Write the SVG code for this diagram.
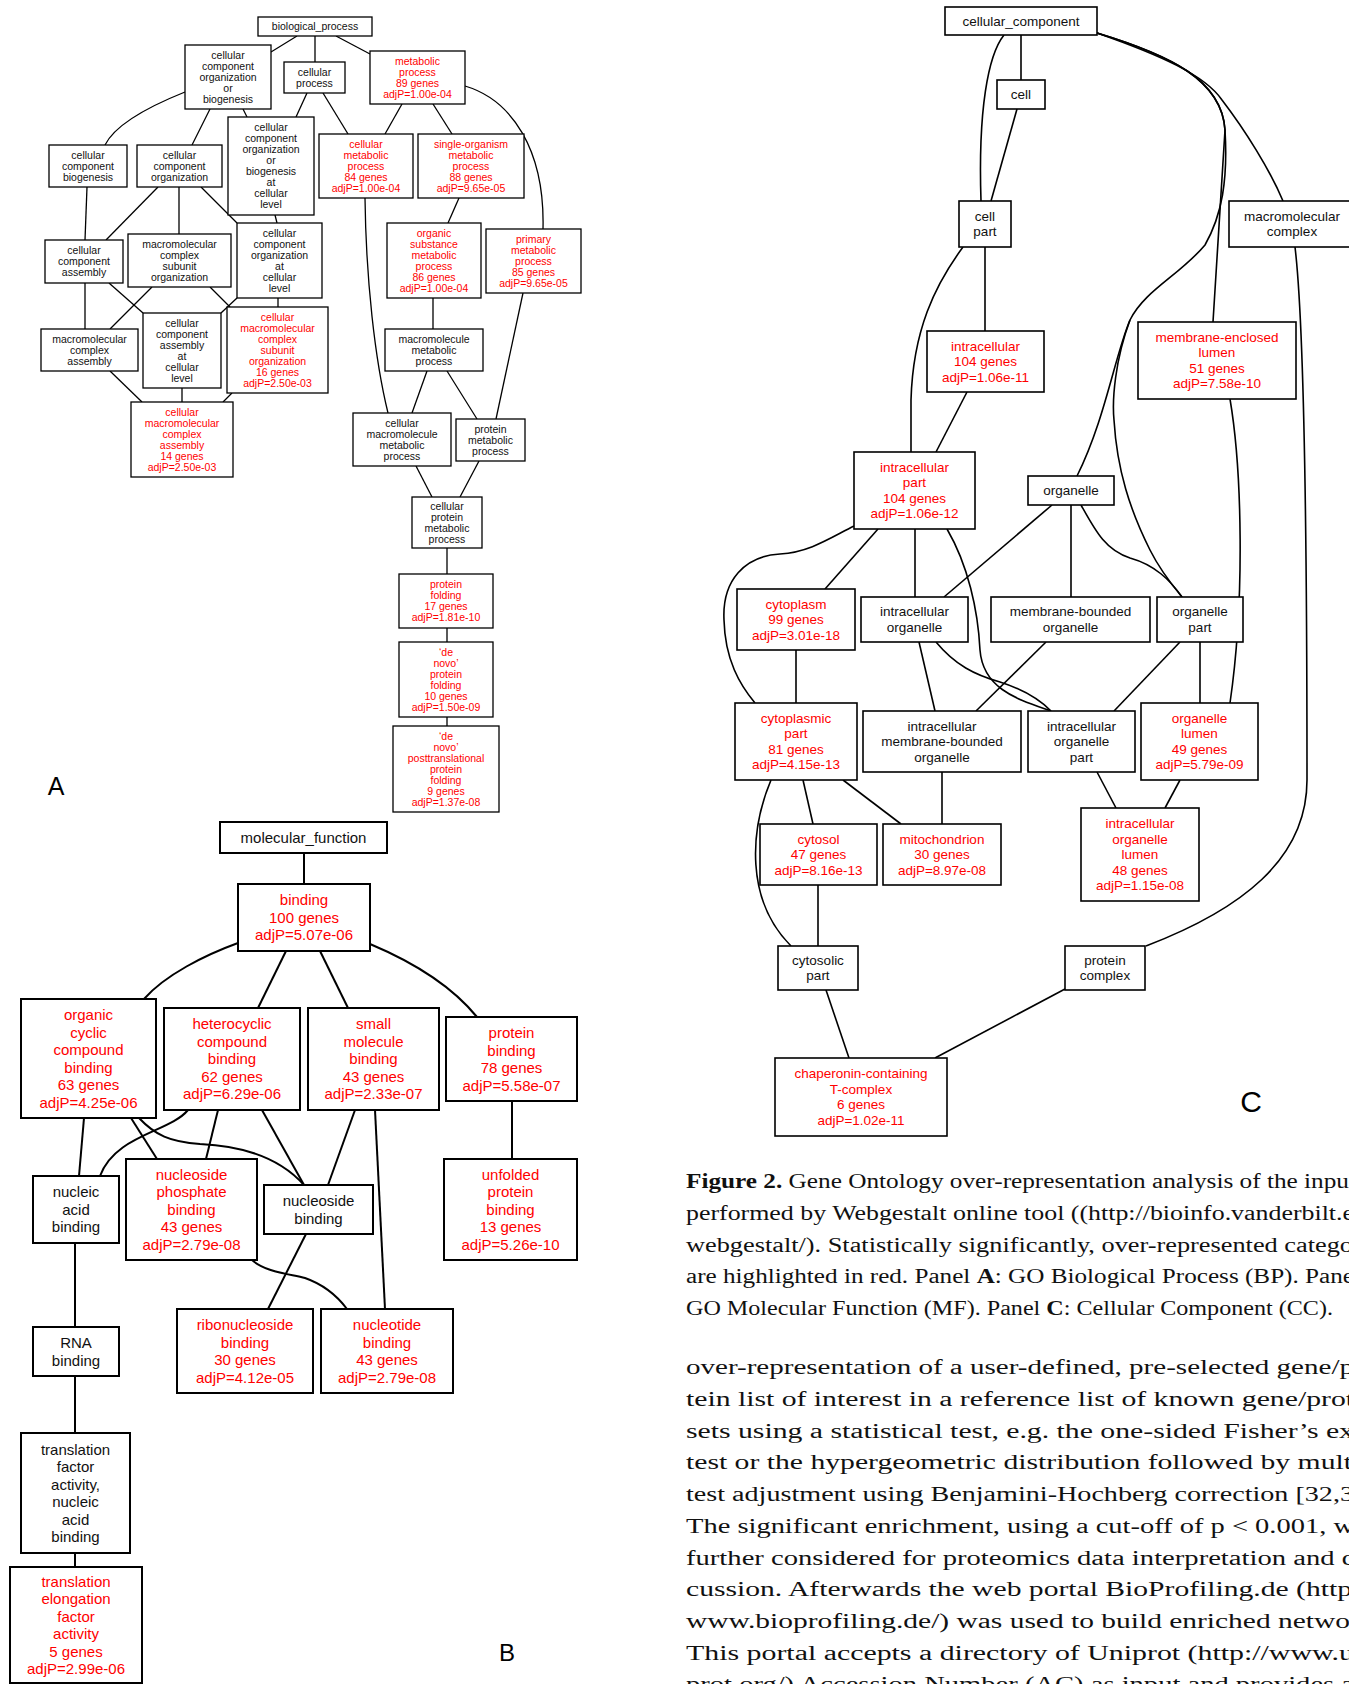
<svg xmlns="http://www.w3.org/2000/svg" width="1349" height="1684" viewBox="0 0 1349 1684">
<style>
.bg{fill:#fff}
.box{fill:#fff;stroke:#000}
.ba{stroke-width:1.3}
.bb{stroke-width:2}
.bc{stroke-width:1.6}
.edges path{fill:none;stroke:#000}
.ea path{stroke-width:1.3}
.eb path{stroke-width:2}
.ec path{stroke-width:1.6}
text{font-family:"Liberation Sans",Arial,sans-serif;text-anchor:middle;fill:#111}
.ta{font-size:10.5px}
.tb{font-size:15px}
.tc{font-size:13.5px}
.r{fill:#ff0000}
.lbl{font-family:"Liberation Sans",Arial,sans-serif;fill:#000}
.cap{font-family:"Liberation Serif","Times New Roman",serif;font-size:20px;text-anchor:start;fill:#111}
.bold{font-weight:bold}
</style>
<rect class="bg" x="0" y="0" width="1349" height="1684"/>

<!-- ================= PANEL A ================= -->
<g id="panelA">
<g id="edgesA" class="edges ea">
<path d="M297,36 L271,52"/>
<path d="M315,36 L315,62"/>
<path d="M336,36 L370,54"/>
<path d="M185,92 C145,108 115,125 105,145"/>
<path d="M210,109 L192,145"/>
<path d="M243,109 L247,117"/>
<path d="M307,93 L296,117"/>
<path d="M323,93 L348,134"/>
<path d="M402,104 L385,134"/>
<path d="M433,104 L452,134"/>
<path d="M465,86 C512,100 545,150 543,229"/>
<path d="M459,198 L448,223"/>
<path d="M365,198 C366,280 375,360 388,413"/>
<path d="M433,298 L433,329"/>
<path d="M523,293 L496,419"/>
<path d="M427,371 L412,413"/>
<path d="M447,371 L477,419"/>
<path d="M416,466 L432,497"/>
<path d="M479,461 L460,497"/>
<path d="M447,548 L447,574"/>
<path d="M447,628 L447,642"/>
<path d="M447,717 L447,726"/>
<path d="M87,187 L85,240"/>
<path d="M158,187 L106,240"/>
<path d="M179,187 L179,234"/>
<path d="M201,187 L237,223"/>
<path d="M275,215 L277,223"/>
<path d="M85,283 L85,329"/>
<path d="M109,283 L143,313"/>
<path d="M152,287 L110,329"/>
<path d="M210,287 L230,307"/>
<path d="M237,298 L221,313"/>
<path d="M278,298 L278,307"/>
<path d="M110,371 L142,402"/>
<path d="M182,388 L182,402"/>
<path d="M232,393 L223,402"/>
</g>

<g id="a-biological-process"><rect class="box ba" x="258" y="17" width="114" height="19"/><text class="ta" x="315" y="30.2">biological_process</text></g>
<g id="a-ccoob"><rect class="box ba" x="185" y="45" width="86" height="64"/><text class="ta" y="58.7"><tspan x="228">cellular</tspan><tspan x="228" dy="11">component</tspan><tspan x="228" dy="11">organization</tspan><tspan x="228" dy="11">or</tspan><tspan x="228" dy="11">biogenesis</tspan></text></g>
<g id="a-cellular-process"><rect class="box ba" x="284" y="62" width="61" height="31"/><text class="ta" y="75.7"><tspan x="314.5">cellular</tspan><tspan x="314.5" dy="11">process</tspan></text></g>
<g id="a-metabolic-process"><rect class="box ba" x="370" y="51" width="95" height="53"/><text class="ta r" y="64.7"><tspan x="417.5">metabolic</tspan><tspan x="417.5" dy="11">process</tspan><tspan x="417.5" dy="11">89 genes</tspan><tspan x="417.5" dy="11">adjP=1.00e-04</tspan></text></g>
<g id="a-ccb"><rect class="box ba" x="49" y="145" width="78" height="42"/><text class="ta" y="158.7"><tspan x="88">cellular</tspan><tspan x="88" dy="11">component</tspan><tspan x="88" dy="11">biogenesis</tspan></text></g>
<g id="a-cco"><rect class="box ba" x="137" y="145" width="85" height="42"/><text class="ta" y="158.7"><tspan x="179.5">cellular</tspan><tspan x="179.5" dy="11">component</tspan><tspan x="179.5" dy="11">organization</tspan></text></g>
<g id="a-ccoobcl"><rect class="box ba" x="228" y="117" width="86" height="98"/><text class="ta" y="131.2"><tspan x="271">cellular</tspan><tspan x="271" dy="11">component</tspan><tspan x="271" dy="11">organization</tspan><tspan x="271" dy="11">or</tspan><tspan x="271" dy="11">biogenesis</tspan><tspan x="271" dy="11">at</tspan><tspan x="271" dy="11">cellular</tspan><tspan x="271" dy="11">level</tspan></text></g>
<g id="a-cmp"><rect class="box ba" x="319" y="134" width="94" height="64"/><text class="ta r" y="147.7"><tspan x="366">cellular</tspan><tspan x="366" dy="11">metabolic</tspan><tspan x="366" dy="11">process</tspan><tspan x="366" dy="11">84 genes</tspan><tspan x="366" dy="11">adjP=1.00e-04</tspan></text></g>
<g id="a-somp"><rect class="box ba" x="418" y="134" width="106" height="64"/><text class="ta r" y="147.7"><tspan x="471">single-organism</tspan><tspan x="471" dy="11">metabolic</tspan><tspan x="471" dy="11">process</tspan><tspan x="471" dy="11">88 genes</tspan><tspan x="471" dy="11">adjP=9.65e-05</tspan></text></g>
<g id="a-cca"><rect class="box ba" x="45" y="240" width="78" height="43"/><text class="ta" y="254.2"><tspan x="84">cellular</tspan><tspan x="84" dy="11">component</tspan><tspan x="84" dy="11">assembly</tspan></text></g>
<g id="a-mcso"><rect class="box ba" x="128" y="234" width="103" height="53"/><text class="ta" y="247.7"><tspan x="179.5">macromolecular</tspan><tspan x="179.5" dy="11">complex</tspan><tspan x="179.5" dy="11">subunit</tspan><tspan x="179.5" dy="11">organization</tspan></text></g>
<g id="a-ccoacl"><rect class="box ba" x="237" y="223" width="85" height="75"/><text class="ta" y="236.7"><tspan x="279.5">cellular</tspan><tspan x="279.5" dy="11">component</tspan><tspan x="279.5" dy="11">organization</tspan><tspan x="279.5" dy="11">at</tspan><tspan x="279.5" dy="11">cellular</tspan><tspan x="279.5" dy="11">level</tspan></text></g>
<g id="a-osmp"><rect class="box ba" x="387" y="223" width="94" height="75"/><text class="ta r" y="236.7"><tspan x="434">organic</tspan><tspan x="434" dy="11">substance</tspan><tspan x="434" dy="11">metabolic</tspan><tspan x="434" dy="11">process</tspan><tspan x="434" dy="11">86 genes</tspan><tspan x="434" dy="11">adjP=1.00e-04</tspan></text></g>
<g id="a-pmp"><rect class="box ba" x="486" y="229" width="95" height="64"/><text class="ta r" y="242.7"><tspan x="533.5">primary</tspan><tspan x="533.5" dy="11">metabolic</tspan><tspan x="533.5" dy="11">process</tspan><tspan x="533.5" dy="11">85 genes</tspan><tspan x="533.5" dy="11">adjP=9.65e-05</tspan></text></g>
<g id="a-mca"><rect class="box ba" x="41" y="329" width="97" height="42"/><text class="ta" y="342.7"><tspan x="89.5">macromolecular</tspan><tspan x="89.5" dy="11">complex</tspan><tspan x="89.5" dy="11">assembly</tspan></text></g>
<g id="a-ccaacl"><rect class="box ba" x="143" y="313" width="78" height="75"/><text class="ta" y="326.7"><tspan x="182">cellular</tspan><tspan x="182" dy="11">component</tspan><tspan x="182" dy="11">assembly</tspan><tspan x="182" dy="11">at</tspan><tspan x="182" dy="11">cellular</tspan><tspan x="182" dy="11">level</tspan></text></g>
<g id="a-cmcso"><rect class="box ba" x="227" y="307" width="101" height="86"/><text class="ta r" y="320.7"><tspan x="277.5">cellular</tspan><tspan x="277.5" dy="11">macromolecular</tspan><tspan x="277.5" dy="11">complex</tspan><tspan x="277.5" dy="11">subunit</tspan><tspan x="277.5" dy="11">organization</tspan><tspan x="277.5" dy="11">16 genes</tspan><tspan x="277.5" dy="11">adjP=2.50e-03</tspan></text></g>
<g id="a-mmp"><rect class="box ba" x="385" y="329" width="98" height="42"/><text class="ta" y="342.7"><tspan x="434">macromolecule</tspan><tspan x="434" dy="11">metabolic</tspan><tspan x="434" dy="11">process</tspan></text></g>
<g id="a-cmca"><rect class="box ba" x="131" y="402" width="102" height="75"/><text class="ta r" y="415.7"><tspan x="182">cellular</tspan><tspan x="182" dy="11">macromolecular</tspan><tspan x="182" dy="11">complex</tspan><tspan x="182" dy="11">assembly</tspan><tspan x="182" dy="11">14 genes</tspan><tspan x="182" dy="11">adjP=2.50e-03</tspan></text></g>
<g id="a-cmmp"><rect class="box ba" x="353" y="413" width="98" height="53"/><text class="ta" y="426.7"><tspan x="402">cellular</tspan><tspan x="402" dy="11">macromolecule</tspan><tspan x="402" dy="11">metabolic</tspan><tspan x="402" dy="11">process</tspan></text></g>
<g id="a-prmp"><rect class="box ba" x="456" y="419" width="69" height="42"/><text class="ta" y="432.7"><tspan x="490.5">protein</tspan><tspan x="490.5" dy="11">metabolic</tspan><tspan x="490.5" dy="11">process</tspan></text></g>
<g id="a-cpmp"><rect class="box ba" x="412" y="497" width="70" height="51"/><text class="ta" y="509.7"><tspan x="447">cellular</tspan><tspan x="447" dy="11">protein</tspan><tspan x="447" dy="11">metabolic</tspan><tspan x="447" dy="11">process</tspan></text></g>
<g id="a-pf"><rect class="box ba" x="399" y="574" width="94" height="54"/><text class="ta r" y="588.2"><tspan x="446">protein</tspan><tspan x="446" dy="11">folding</tspan><tspan x="446" dy="11">17 genes</tspan><tspan x="446" dy="11">adjP=1.81e-10</tspan></text></g>
<g id="a-dnpf"><rect class="box ba" x="399" y="642" width="94" height="75"/><text class="ta r" y="655.7"><tspan x="446">‘de</tspan><tspan x="446" dy="11">novo’</tspan><tspan x="446" dy="11">protein</tspan><tspan x="446" dy="11">folding</tspan><tspan x="446" dy="11">10 genes</tspan><tspan x="446" dy="11">adjP=1.50e-09</tspan></text></g>
<g id="a-dnppf"><rect class="box ba" x="393" y="726" width="106" height="86"/><text class="ta r" y="739.7"><tspan x="446">‘de</tspan><tspan x="446" dy="11">novo’</tspan><tspan x="446" dy="11">posttranslational</tspan><tspan x="446" dy="11">protein</tspan><tspan x="446" dy="11">folding</tspan><tspan x="446" dy="11">9 genes</tspan><tspan x="446" dy="11">adjP=1.37e-08</tspan></text></g>
<text class="lbl" x="56" y="795" font-size="25">A</text>
</g>

<!-- ================= PANEL B ================= -->
<g id="panelB">
<g id="edgesB" class="edges eb">
<path d="M304,853 L304,884"/>
<path d="M238,943 C205,955 165,975 144,999"/>
<path d="M286,951 L258,1008"/>
<path d="M320,951 L348,1008"/>
<path d="M370,944 C420,965 455,990 477,1017"/>
<path d="M84,1118 L79,1176"/>
<path d="M131,1118 L157,1159"/>
<path d="M139,1118 C155,1135 170,1142 200,1144 C245,1146 280,1158 304,1185"/>
<path d="M188,1110 C170,1132 115,1135 100,1176"/>
<path d="M218,1110 L206,1159"/>
<path d="M262,1110 L304,1185"/>
<path d="M355,1110 L328,1185"/>
<path d="M375,1110 L385,1309"/>
<path d="M512,1101 L512,1159"/>
<path d="M75,1243 L75,1327"/>
<path d="M75,1376 L75,1433"/>
<path d="M75,1553 L75,1567"/>
<path d="M306,1234 L268,1309"/>
<path d="M252,1260 C265,1272 290,1274 305,1278 C325,1285 338,1297 347,1309"/>
</g>
<g id="b-mf"><rect class="box bb" x="220" y="822" width="167" height="31"/><text class="tb" x="303.5" y="842.75">molecular_function</text></g>
<g id="b-binding"><rect class="box bb" x="238" y="884" width="132" height="67"/><text class="tb r" y="905.25"><tspan x="304">binding</tspan><tspan x="304" dy="17.5">100 genes</tspan><tspan x="304" dy="17.5">adjP=5.07e-06</tspan></text></g>
<g id="b-ocb"><rect class="box bb" x="21" y="999" width="135" height="119"/><text class="tb r" y="1020"><tspan x="88.5">organic</tspan><tspan x="88.5" dy="17.5">cyclic</tspan><tspan x="88.5" dy="17.5">compound</tspan><tspan x="88.5" dy="17.5">binding</tspan><tspan x="88.5" dy="17.5">63 genes</tspan><tspan x="88.5" dy="17.5">adjP=4.25e-06</tspan></text></g>
<g id="b-hcb"><rect class="box bb" x="164" y="1008" width="136" height="102"/><text class="tb r" y="1029.25"><tspan x="232">heterocyclic</tspan><tspan x="232" dy="17.5">compound</tspan><tspan x="232" dy="17.5">binding</tspan><tspan x="232" dy="17.5">62 genes</tspan><tspan x="232" dy="17.5">adjP=6.29e-06</tspan></text></g>
<g id="b-smb"><rect class="box bb" x="308" y="1008" width="131" height="102"/><text class="tb r" y="1029.25"><tspan x="373.5">small</tspan><tspan x="373.5" dy="17.5">molecule</tspan><tspan x="373.5" dy="17.5">binding</tspan><tspan x="373.5" dy="17.5">43 genes</tspan><tspan x="373.5" dy="17.5">adjP=2.33e-07</tspan></text></g>
<g id="b-pb"><rect class="box bb" x="446" y="1017" width="131" height="84"/><text class="tb r" y="1038"><tspan x="511.5">protein</tspan><tspan x="511.5" dy="17.5">binding</tspan><tspan x="511.5" dy="17.5">78 genes</tspan><tspan x="511.5" dy="17.5">adjP=5.58e-07</tspan></text></g>
<g id="b-nab"><rect class="box bb" x="33" y="1176" width="86" height="67"/><text class="tb" y="1197.25"><tspan x="76">nucleic</tspan><tspan x="76" dy="17.5">acid</tspan><tspan x="76" dy="17.5">binding</tspan></text></g>
<g id="b-npb"><rect class="box bb" x="126" y="1159" width="131" height="101"/><text class="tb r" y="1179.75"><tspan x="191.5">nucleoside</tspan><tspan x="191.5" dy="17.5">phosphate</tspan><tspan x="191.5" dy="17.5">binding</tspan><tspan x="191.5" dy="17.5">43 genes</tspan><tspan x="191.5" dy="17.5">adjP=2.79e-08</tspan></text></g>
<g id="b-nb"><rect class="box bb" x="264" y="1185" width="109" height="49"/><text class="tb" y="1206"><tspan x="318.5">nucleoside</tspan><tspan x="318.5" dy="17.5">binding</tspan></text></g>
<g id="b-upb"><rect class="box bb" x="444" y="1159" width="133" height="101"/><text class="tb r" y="1179.75"><tspan x="510.5">unfolded</tspan><tspan x="510.5" dy="17.5">protein</tspan><tspan x="510.5" dy="17.5">binding</tspan><tspan x="510.5" dy="17.5">13 genes</tspan><tspan x="510.5" dy="17.5">adjP=5.26e-10</tspan></text></g>
<g id="b-rna"><rect class="box bb" x="33" y="1327" width="86" height="49"/><text class="tb" y="1348"><tspan x="76">RNA</tspan><tspan x="76" dy="17.5">binding</tspan></text></g>
<g id="b-tfa"><rect class="box bb" x="21" y="1433" width="109" height="120"/><text class="tb" y="1454.5"><tspan x="75.5">translation</tspan><tspan x="75.5" dy="17.5">factor</tspan><tspan x="75.5" dy="17.5">activity,</tspan><tspan x="75.5" dy="17.5">nucleic</tspan><tspan x="75.5" dy="17.5">acid</tspan><tspan x="75.5" dy="17.5">binding</tspan></text></g>
<g id="b-tefa"><rect class="box bb" x="10" y="1567" width="132" height="116"/><text class="tb r" y="1586.5"><tspan x="76">translation</tspan><tspan x="76" dy="17.5">elongation</tspan><tspan x="76" dy="17.5">factor</tspan><tspan x="76" dy="17.5">activity</tspan><tspan x="76" dy="17.5">5 genes</tspan><tspan x="76" dy="17.5">adjP=2.99e-06</tspan></text></g>
<g id="b-rb"><rect class="box bb" x="177" y="1309" width="136" height="84"/><text class="tb r" y="1330"><tspan x="245">ribonucleoside</tspan><tspan x="245" dy="17.5">binding</tspan><tspan x="245" dy="17.5">30 genes</tspan><tspan x="245" dy="17.5">adjP=4.12e-05</tspan></text></g>
<g id="b-ntb"><rect class="box bb" x="321" y="1309" width="132" height="84"/><text class="tb r" y="1330"><tspan x="387">nucleotide</tspan><tspan x="387" dy="17.5">binding</tspan><tspan x="387" dy="17.5">43 genes</tspan><tspan x="387" dy="17.5">adjP=2.79e-08</tspan></text></g>
<text class="lbl" x="507" y="1661" font-size="24">B</text>
</g>

<!-- ================= PANEL C ================= -->
<g id="panelC">
<g id="edgesC" class="edges ec">
<path d="M1021,35 L1021,80"/>
<path d="M1004,35 C988,55 978,110 981,201"/>
<path d="M1017,109 L991,201"/>
<path d="M1097,33 C1160,55 1205,75 1222,100 C1245,130 1270,170 1283,201"/>
<path d="M1097,33 C1170,55 1222,80 1225,130 L1213,322"/>
<path d="M1097,33 C1170,55 1222,80 1225,130 C1228,180 1222,215 1205,245 C1180,275 1145,290 1130,320 C1115,355 1105,420 1077,476"/>
<path d="M1130,320 C1115,360 1112,400 1114,420 C1117,470 1130,510 1150,550 C1160,570 1172,585 1182,597"/>
<path d="M1230,399 C1242,470 1245,600 1230,703"/>
<path d="M1295,247 C1305,330 1307,600 1307,780 C1307,860 1240,910 1146,946"/>
<path d="M985,247 L985,331"/>
<path d="M963,247 C935,285 913,330 911,400 L911,452"/>
<path d="M967,392 L936,452"/>
<path d="M878,529 L825,589"/>
<path d="M915,529 L915,597"/>
<path d="M854,526 C830,538 810,552 780,554 C745,556 722,580 724,620 C725,660 740,685 755,703"/>
<path d="M947,529 C968,565 978,610 980,650 C983,690 1020,700 1051,711"/>
<path d="M1052,505 L944,597"/>
<path d="M1071,505 L1071,597"/>
<path d="M1081,505 C1095,530 1105,550 1130,558 C1155,565 1170,580 1182,597"/>
<path d="M919,642 L935,711"/>
<path d="M936,642 C955,665 975,675 1000,682 C1025,690 1040,700 1051,711"/>
<path d="M1046,642 L976,711"/>
<path d="M1180,642 L1114,711"/>
<path d="M1200,642 L1200,703"/>
<path d="M796,650 L796,703"/>
<path d="M803,780 L813,824"/>
<path d="M843,780 L901,824"/>
<path d="M771,780 C750,830 745,900 791,946"/>
<path d="M942,772 L942,824"/>
<path d="M1097,772 L1116,808"/>
<path d="M1180,780 L1165,808"/>
<path d="M818,885 L818,946"/>
<path d="M826,990 L849,1058"/>
<path d="M1065,989 L935,1058"/>
</g>
<g id="c-cc"><rect class="box bc" x="945" y="7" width="152" height="28"/><text class="tc" x="1021" y="25.7">cellular_component</text></g>
<g id="c-cell"><rect class="box bc" x="997" y="80" width="48" height="29"/><text class="tc" x="1021" y="99.2">cell</text></g>
<g id="c-cellpart"><rect class="box bc" x="959" y="201" width="52" height="46"/><text class="tc" y="220.95"><tspan x="985">cell</tspan><tspan x="985" dy="15.5">part</tspan></text></g>
<g id="c-mc"><rect class="box bc" x="1229" y="201" width="127" height="46"/><text class="tc" y="220.95"><tspan x="1292">macromolecular</tspan><tspan x="1292" dy="15.5">complex</tspan></text></g>
<g id="c-ic"><rect class="box bc" x="927" y="331" width="117" height="61"/><text class="tc r" y="350.7"><tspan x="985.5">intracellular</tspan><tspan x="985.5" dy="15.5">104 genes</tspan><tspan x="985.5" dy="15.5">adjP=1.06e-11</tspan></text></g>
<g id="c-mel"><rect class="box bc" x="1138" y="322" width="158" height="77"/><text class="tc r" y="341.95"><tspan x="1217">membrane-enclosed</tspan><tspan x="1217" dy="15.5">lumen</tspan><tspan x="1217" dy="15.5">51 genes</tspan><tspan x="1217" dy="15.5">adjP=7.58e-10</tspan></text></g>
<g id="c-icp"><rect class="box bc" x="854" y="452" width="121" height="77"/><text class="tc r" y="471.95"><tspan x="914.5">intracellular</tspan><tspan x="914.5" dy="15.5">part</tspan><tspan x="914.5" dy="15.5">104 genes</tspan><tspan x="914.5" dy="15.5">adjP=1.06e-12</tspan></text></g>
<g id="c-org"><rect class="box bc" x="1028" y="476" width="86" height="29"/><text class="tc" x="1071" y="495.2">organelle</text></g>
<g id="c-cyt"><rect class="box bc" x="737" y="589" width="118" height="61"/><text class="tc r" y="608.7"><tspan x="796">cytoplasm</tspan><tspan x="796" dy="15.5">99 genes</tspan><tspan x="796" dy="15.5">adjP=3.01e-18</tspan></text></g>
<g id="c-io"><rect class="box bc" x="861" y="597" width="107" height="45"/><text class="tc" y="616.45"><tspan x="914.5">intracellular</tspan><tspan x="914.5" dy="15.5">organelle</tspan></text></g>
<g id="c-mbo"><rect class="box bc" x="991" y="597" width="159" height="45"/><text class="tc" y="616.45"><tspan x="1070.5">membrane-bounded</tspan><tspan x="1070.5" dy="15.5">organelle</tspan></text></g>
<g id="c-op"><rect class="box bc" x="1157" y="597" width="86" height="45"/><text class="tc" y="616.45"><tspan x="1200">organelle</tspan><tspan x="1200" dy="15.5">part</tspan></text></g>
<g id="c-cytp"><rect class="box bc" x="735" y="703" width="122" height="77"/><text class="tc r" y="722.95"><tspan x="796">cytoplasmic</tspan><tspan x="796" dy="15.5">part</tspan><tspan x="796" dy="15.5">81 genes</tspan><tspan x="796" dy="15.5">adjP=4.15e-13</tspan></text></g>
<g id="c-imbo"><rect class="box bc" x="863" y="711" width="158" height="61"/><text class="tc" y="730.7"><tspan x="942">intracellular</tspan><tspan x="942" dy="15.5">membrane-bounded</tspan><tspan x="942" dy="15.5">organelle</tspan></text></g>
<g id="c-iop"><rect class="box bc" x="1028" y="711" width="107" height="61"/><text class="tc" y="730.7"><tspan x="1081.5">intracellular</tspan><tspan x="1081.5" dy="15.5">organelle</tspan><tspan x="1081.5" dy="15.5">part</tspan></text></g>
<g id="c-ol"><rect class="box bc" x="1141" y="703" width="117" height="77"/><text class="tc r" y="722.95"><tspan x="1199.5">organelle</tspan><tspan x="1199.5" dy="15.5">lumen</tspan><tspan x="1199.5" dy="15.5">49 genes</tspan><tspan x="1199.5" dy="15.5">adjP=5.79e-09</tspan></text></g>
<g id="c-cytosol"><rect class="box bc" x="760" y="824" width="117" height="61"/><text class="tc r" y="843.7"><tspan x="818.5">cytosol</tspan><tspan x="818.5" dy="15.5">47 genes</tspan><tspan x="818.5" dy="15.5">adjP=8.16e-13</tspan></text></g>
<g id="c-mito"><rect class="box bc" x="883" y="824" width="118" height="61"/><text class="tc r" y="843.7"><tspan x="942">mitochondrion</tspan><tspan x="942" dy="15.5">30 genes</tspan><tspan x="942" dy="15.5">adjP=8.97e-08</tspan></text></g>
<g id="c-iol"><rect class="box bc" x="1081" y="808" width="118" height="93"/><text class="tc r" y="828.2"><tspan x="1140">intracellular</tspan><tspan x="1140" dy="15.5">organelle</tspan><tspan x="1140" dy="15.5">lumen</tspan><tspan x="1140" dy="15.5">48 genes</tspan><tspan x="1140" dy="15.5">adjP=1.15e-08</tspan></text></g>
<g id="c-cytosolic"><rect class="box bc" x="778" y="946" width="80" height="44"/><text class="tc" y="964.95"><tspan x="818">cytosolic</tspan><tspan x="818" dy="15.5">part</tspan></text></g>
<g id="c-pc"><rect class="box bc" x="1065" y="946" width="80" height="44"/><text class="tc" y="964.95"><tspan x="1105">protein</tspan><tspan x="1105" dy="15.5">complex</tspan></text></g>
<g id="c-cct"><rect class="box bc" x="775" y="1058" width="172" height="78"/><text class="tc r" y="1078.45"><tspan x="861">chaperonin-containing</tspan><tspan x="861" dy="15.5">T-complex</tspan><tspan x="861" dy="15.5">6 genes</tspan><tspan x="861" dy="15.5">adjP=1.02e-11</tspan></text></g>
<text class="lbl" x="1251" y="1112" font-size="30">C</text>
</g>

<!-- ================= CAPTION / BODY TEXT ================= -->
<g id="caption">
<text class="cap" x="686" y="1188" textLength="670" lengthAdjust="spacingAndGlyphs"><tspan class="bold">Figure 2.</tspan> Gene Ontology over-representation analysis of the input</text>
<text class="cap" x="686" y="1220" textLength="668" lengthAdjust="spacingAndGlyphs">performed by Webgestalt online tool ((http://bioinfo.vanderbilt.e</text>
<text class="cap" x="686" y="1251.5" textLength="667" lengthAdjust="spacingAndGlyphs">webgestalt/). Statistically significantly, over-represented catego</text>
<text class="cap" x="686" y="1283" textLength="668" lengthAdjust="spacingAndGlyphs">are highlighted in red. Panel <tspan class="bold">A</tspan>: GO Biological Process (BP). Pane</text>
<text class="cap" x="686" y="1315" textLength="647" lengthAdjust="spacingAndGlyphs">GO Molecular Function (MF). Panel <tspan class="bold">C</tspan>: Cellular Component (CC).</text>
<text class="cap" x="686" y="1374" textLength="668" lengthAdjust="spacingAndGlyphs">over-representation of a user-defined, pre-selected gene/p</text>
<text class="cap" x="686" y="1406" textLength="668" lengthAdjust="spacingAndGlyphs">tein list of interest in a reference list of known gene/prot</text>
<text class="cap" x="686" y="1437.5" textLength="668" lengthAdjust="spacingAndGlyphs">sets using a statistical test, e.g. the one-sided Fisher’s ex</text>
<text class="cap" x="686" y="1469" textLength="666" lengthAdjust="spacingAndGlyphs">test or the hypergeometric distribution followed by mult</text>
<text class="cap" x="686" y="1501" textLength="668" lengthAdjust="spacingAndGlyphs">test adjustment using Benjamini-Hochberg correction [32,3</text>
<text class="cap" x="686" y="1533" textLength="668" lengthAdjust="spacingAndGlyphs">The significant enrichment, using a cut-off of p &lt; 0.001, w</text>
<text class="cap" x="686" y="1564.5" textLength="670" lengthAdjust="spacingAndGlyphs">further considered for proteomics data interpretation and d</text>
<text class="cap" x="686" y="1596" textLength="666" lengthAdjust="spacingAndGlyphs">cussion. Afterwards the web portal BioProfiling.de (http</text>
<text class="cap" x="686" y="1628" textLength="664" lengthAdjust="spacingAndGlyphs">www.bioprofiling.de/) was used to build enriched netwo</text>
<text class="cap" x="686" y="1659.5" textLength="668" lengthAdjust="spacingAndGlyphs">This portal accepts a directory of Uniprot (http://www.u</text>
<text class="cap" x="686" y="1691" textLength="668" lengthAdjust="spacingAndGlyphs">prot.org/) Accession Number (AC) as input and provides a</text>
</g>
</svg>
